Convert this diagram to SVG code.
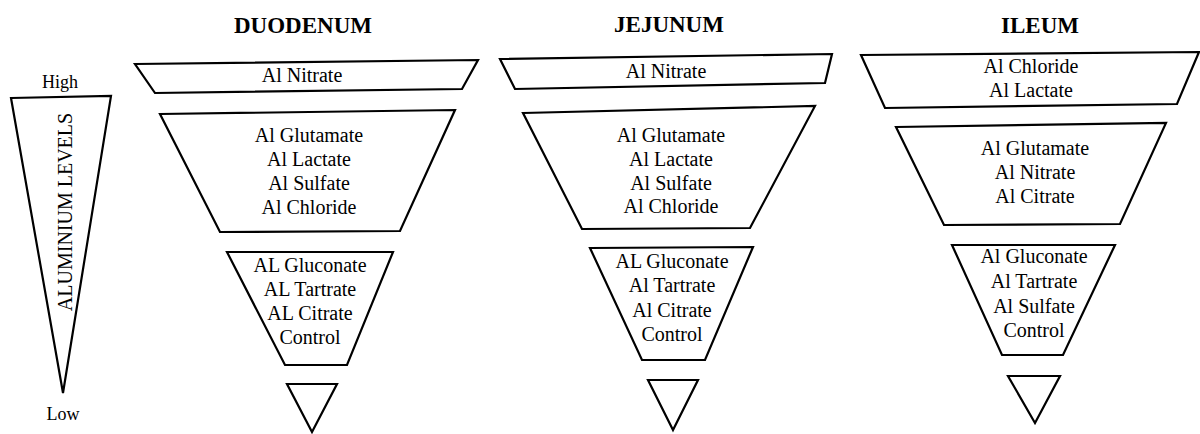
<svg xmlns="http://www.w3.org/2000/svg" width="1200" height="434" viewBox="0 0 1200 434">
<style>
.shape{fill:#fff;stroke:#000;stroke-width:2.2;stroke-linejoin:miter}
.t{font-family:"Liberation Serif","Times New Roman",serif;font-size:20px;fill:#000;text-anchor:middle}
.title{font-family:"Liberation Serif","Times New Roman",serif;font-size:23px;font-weight:bold;fill:#000;text-anchor:middle}
.axis{font-family:"Liberation Serif","Times New Roman",serif;font-size:18px;fill:#000;text-anchor:middle}
</style>
<rect width="1200" height="434" fill="#fff"/>
<g id="scale">
<polygon class="shape" points="11,98 111,96 63,393"/>
<text class="axis" x="60" y="88">High</text>
<text class="axis" x="63" y="420">Low</text>
<text class="t" transform="translate(72,212) rotate(-90)">ALUMINIUM  LEVELS</text>
</g>
<g id="duodenum">
<text class="title" x="303" y="33">DUODENUM</text>
<g id="duo-1"><polygon class="shape" points="135,64 478,60 462,89 155,93"/><text class="t" x="302" y="82">Al Nitrate</text></g>
<g id="duo-2"><polygon class="shape" points="160,114 455,110 400,231 220,232"/>
<text class="t" x="309" y="142">Al Glutamate</text><text class="t" x="309" y="166">Al Lactate</text><text class="t" x="309" y="190">Al Sulfate</text><text class="t" x="309" y="214">Al Chloride</text></g>
<g id="duo-3"><polygon class="shape" points="227,252 393,252 347,365 285,365"/>
<text class="t" x="310" y="272">AL Gluconate</text><text class="t" x="310" y="296">AL Tartrate</text><text class="t" x="310" y="320">AL Citrate</text><text class="t" x="310" y="344">Control</text></g>
<g id="duo-4"><polygon class="shape" points="287,384 337,384 312,432"/></g>
</g>
<g id="jejunum">
<text class="title" x="669" y="32">JEJUNUM</text>
<g id="jej-1"><polygon class="shape" points="500,59 832,54 825,83 515,89"/><text class="t" x="666" y="78">Al Nitrate</text></g>
<g id="jej-2"><polygon class="shape" points="523,113 815,106 750,228 582,229"/>
<text class="t" x="671" y="142">Al Glutamate</text><text class="t" x="671" y="166">Al Lactate</text><text class="t" x="671" y="190">Al Sulfate</text><text class="t" x="671" y="213">Al Chloride</text></g>
<g id="jej-3"><polygon class="shape" points="590,248 753,247 705,360 642,360"/>
<text class="t" x="672" y="268">AL Gluconate</text><text class="t" x="672" y="292">Al Tartrate</text><text class="t" x="672" y="317">Al Citrate</text><text class="t" x="672" y="341">Control</text></g>
<g id="jej-4"><polygon class="shape" points="648,380 698,380 673,430"/></g>
</g>
<g id="ileum">
<text class="title" x="1040" y="33">ILEUM</text>
<g id="ile-1"><polygon class="shape" points="861,55 1199,52 1177,104 885,108"/>
<text class="t" x="1031" y="73">Al Chloride</text><text class="t" x="1031" y="97">Al Lactate</text></g>
<g id="ile-2"><polygon class="shape" points="896,127 1166,123 1120,224 944,225"/>
<text class="t" x="1035" y="155">Al Glutamate</text><text class="t" x="1035" y="179">Al Nitrate</text><text class="t" x="1035" y="203">Al Citrate</text></g>
<g id="ile-3"><polygon class="shape" points="952,245 1115,245 1063,355 1002,355"/>
<text class="t" x="1034" y="263">Al Gluconate</text><text class="t" x="1034" y="288">Al Tartrate</text><text class="t" x="1034" y="313">Al Sulfate</text><text class="t" x="1034" y="337">Control</text></g>
<g id="ile-4"><polygon class="shape" points="1008,376 1060,376 1035,423"/></g>
</g>
<g id="connectors"></g>
</svg>
